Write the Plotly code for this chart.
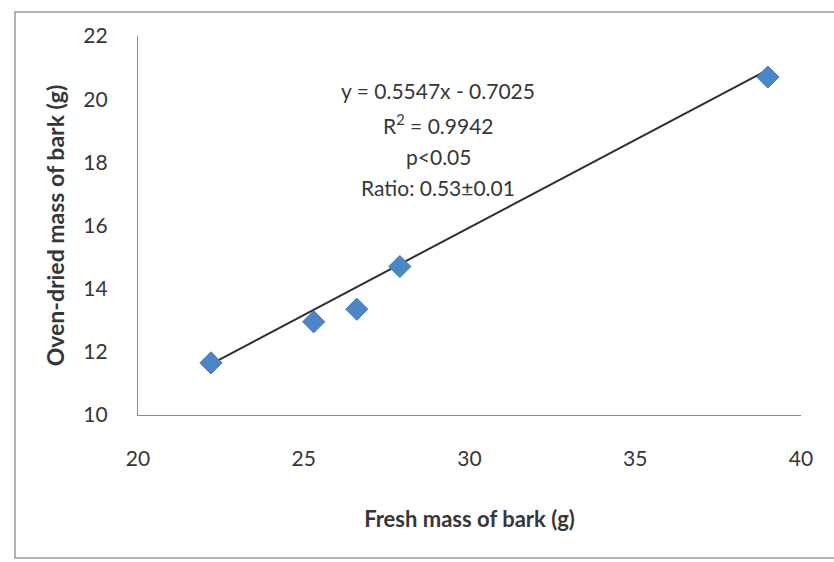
import plotly.graph_objects as go

# Fresh vs oven-dried bark mass (g)
fresh_mass = [22.2, 25.3, 26.6, 27.9, 39.0]
dried_mass = [11.65, 12.95, 13.35, 14.7, 20.7]

# Linear fit reported on the chart
slope = 0.5547
intercept = -0.7025
fit_text = ["y = 0.5547x - 0.7025", "R<sup>2</sup> = 0.9942", "p<0.05", "Ratio: 0.53\u00b10.01"]
fit_text_y = [20.29, 19.2, 18.17, 17.19]

x_ticks = [20, 25, 30, 35, 40]
y_ticks = [10, 12, 14, 16, 18, 20, 22]

FONT = "Lato, 'Open Sans', sans-serif"
TXT = "#363636"

fit_x = [min(fresh_mass), max(fresh_mass)]
fit_y = [slope * v + intercept for v in fit_x]

fig = go.Figure()
fig.add_trace(go.Scatter(
    x=fit_x, y=fit_y, mode="lines",
    line=dict(color="#2e2e38", width=2), hoverinfo="skip", showlegend=False,
))
fig.add_trace(go.Scatter(
    x=fresh_mass, y=dried_mass, mode="markers",
    marker=dict(symbol="diamond", size=17, color="#4a86c8",
                line=dict(color="#3f78b8", width=1)),
    showlegend=False,
))

for txt, ty in zip(fit_text, fit_text_y):
    fig.add_annotation(x=29.05, y=ty, xref="x", yref="y", text=txt, showarrow=False,
                       font=dict(family=FONT, size=21, color=TXT))

# Chart-area border
fig.add_shape(type="rect", xref="paper", yref="paper",
              x0=-0.1855, x1=1.06, y0=-0.377, y1=1.063,
              line=dict(color="#9a9a9a", width=1.5), fillcolor="rgba(0,0,0,0)", layer="below")

fig.update_layout(
    width=834, height=562,
    margin=dict(l=138, r=33, t=36, b=147),
    paper_bgcolor="white", plot_bgcolor="white",
    font=dict(family=FONT, color=TXT),
    xaxis=dict(
        range=[20, 40], tickvals=x_ticks, showgrid=False, zeroline=False,
        showline=True, linecolor="#8a8a8a", linewidth=1.2, ticks="",
        ticklabelstandoff=25, tickfont=dict(size=21, color=TXT),
        title=dict(text="<b>Fresh mass of bark (g)</b>", standoff=42,
                   font=dict(size=22, color=TXT)),
    ),
    yaxis=dict(
        range=[10, 22], tickvals=y_ticks, showgrid=False, zeroline=False,
        showline=True, linecolor="#8a8a8a", linewidth=1.2, ticks="",
        ticklabelstandoff=25, tickfont=dict(size=21, color=TXT),
        title=dict(text="<b>Oven-dried mass of bark (g)</b>", standoff=12,
                   font=dict(size=23, color=TXT)),
    ),
)

fig.write_html("out.html")
